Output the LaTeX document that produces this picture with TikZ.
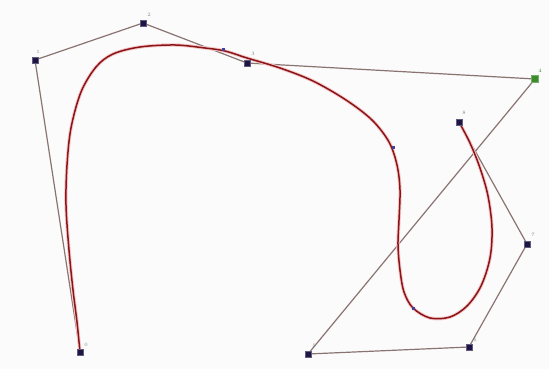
\documentclass[tikz,border=0pt]{standalone}
\usetikzlibrary{calc}
\definecolor{poly}{HTML}{8A7472}
\definecolor{crv}{HTML}{8B1515}
\definecolor{halo}{HTML}{F4C8CC}
\definecolor{cpt}{HTML}{1E1545}
\definecolor{cptg}{HTML}{3C8C2C}
\definecolor{lbl}{HTML}{7A8A88}
\tikzset{
  cp/.style={rectangle, fill=cpt, draw=cpt!70, minimum size=6.5pt, inner sep=0pt},
  cpgreen/.style={rectangle, fill=cptg, draw=cptg!70, minimum size=7pt, inner sep=0pt},
  knot/.style={rectangle, fill=cpt!70!blue!80!white, minimum size=3pt, inner sep=0pt},
  lab/.style={font=\fontsize{5}{6}\selectfont, text=lbl, inner sep=0pt},
  polyline/.style={draw=poly, line width=1.2pt},
  curveline/.style={draw=crv, line width=1.5pt, line cap=round},
  haloline/.style={draw=halo, line width=3.4pt, line cap=round}
}
\begin{document}
\begin{tikzpicture}[x=1pt,y=-1pt]
\fill[white!97!gray] (0,0) rectangle (549,369);
\useasboundingbox (0,0) rectangle (549,369);
% control points
\coordinate (c0) at (80,352);
\coordinate (c1) at (35,60);
\coordinate (c2) at (143,23);
\coordinate (c3) at (247,63);
\coordinate (c4) at (535,79);
\coordinate (c5) at (308,354);
\coordinate (c6) at (469,347);
\coordinate (c7) at (527,244);
\coordinate (c8) at (459,122);
% control polygon
\draw[polyline] (c0) -- (c1) -- (c2) -- (c3) -- (c4) -- (c5) -- (c6) -- (c7) -- (c8);
% curve
\def\curvepts{(80,352) (77,322) (73,290) (69,250) (66,205) (67,165) (71,128) (81,92) (96,67) (113,54) (140,47) (175,45) (205,48) (225,51) (247,58) (280,68) (313,81) (346,100) (372,120) (389,142) (397,165) (400,190) (399,220) (398,245) (400,270) (404,292) (413,308) (430,318) (450,317) (467,306) (481,286) (490,258) (492,228) (488,196) (480,168) (470,143) (459,122)}
\draw[haloline] plot[smooth, tension=0.55] coordinates {\curvepts};
\draw[curveline] plot[smooth, tension=0.55] coordinates {\curvepts};
% knot marks
\node[knot] (k1) at (223,50) {};
\node[knot] (k2) at (393,147) {};
\node[knot] (k3) at (413,308) {};
% control point markers
\node[cp] (p0) at (c0) {};
\node[cp] (p1) at (c1) {};
\node[cp] (p2) at (c2) {};
\node[cp] (p3) at (c3) {};
\node[cpgreen] (p4) at (c4) {};
\node[cp] (p5) at (c5) {};
\node[cp] (p6) at (c6) {};
\node[cp] (p7) at (c7) {};
\node[cp] (p8) at (c8) {};
% labels
\node[lab] (l0) at ($(c0)+(6,-7)$) {0};
\node[lab] (l1) at ($(c1)+(3,-8)$) {1};
\node[lab] (l2) at ($(c2)+(6,-8)$) {2};
\node[lab] (l3) at ($(c3)+(6,-9)$) {3};
\node[lab, text=cptg] (l4) at ($(c4)+(5,-8)$) {4};
\node[lab] (l5) at ($(c5)+(6,-8)$) {5};
\node[lab] (l6) at ($(c6)+(6,-7)$) {6};
\node[lab] (l7) at ($(c7)+(6,-9)$) {7};
\node[lab] (l8) at ($(c8)+(5,-9)$) {8};
\end{tikzpicture}
\end{document}
